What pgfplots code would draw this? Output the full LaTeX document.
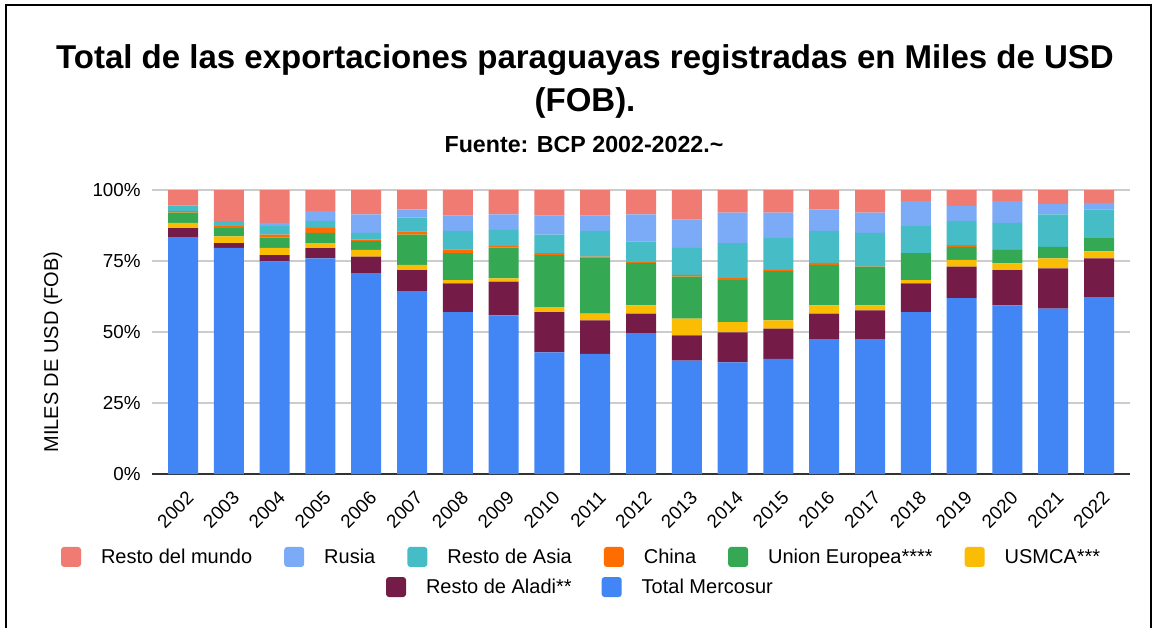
\documentclass[border=0pt]{standalone}
\usepackage{fontspec}
\setmainfont{Liberation Sans}
\usepackage{pgfplots}
\usepackage{pgfplotstable}
\pgfplotsset{compat=1.18}

\definecolor{cMerc}{HTML}{4285F4}
\definecolor{cAladi}{HTML}{741B47}
\definecolor{cUsmca}{HTML}{FBBC04}
\definecolor{cUE}{HTML}{34A853}
\definecolor{cChina}{HTML}{FF6D01}
\definecolor{cAsia}{HTML}{46BDC6}
\definecolor{cRusia}{HTML}{7BAAF7}
\definecolor{cResto}{HTML}{F07B72}

% share of each region, % of total exports
\pgfplotstableread{
x  merc  aladi usmca ue   china asia rusia resto
0  83.2  3.4   1.8   3.6  0.6   1.9  0.0   5.5
1  79.6  1.7   2.4   3.0  0.6   1.7  0.0   11.0
2  74.9  2.2   2.5   3.6  1.1   3.0  1.1   11.6
3  75.9  3.6   1.8   3.6  1.8   2.4  3.5   7.4
4  70.7  5.8   2.4   3.1  0.5   2.4  6.5   8.6
5  64.2  7.6   1.8   10.7 1.1   4.9  2.9   6.8
6  57.0  10.1  1.2   9.5  1.3   6.5  5.4   9.0
7  55.9  11.8  1.2   10.8 0.5   5.8  5.4   8.6
8  42.8  14.2  1.8   18.3 0.7   6.5  6.7   9.0
9  42.3  11.8  2.4   19.8 0.2   9.1  5.4   9.0
10 49.4  7.1   2.9   14.9 0.6   7.0  9.5   8.6
11 39.9  8.9   5.9   14.8 0.6   9.5  10.0  10.4
12 39.3  10.6  3.6   14.9 0.6   12.3 10.7  8.0
13 40.5  10.7  2.9   17.3 0.5   11.2 8.9   8.0
14 47.5  9.0   2.9   14.2 0.7   11.3 7.6   6.8
15 47.5  10.1  1.8   13.6 0.1   11.8 7.1   8.0
16 57.0  10.1  1.2   9.5  0.0   9.5  8.8   3.9
17 61.9  11.1  2.4   4.6  0.6   8.5  5.3   5.6
18 59.4  12.4  2.4   4.7  0.0   9.5  7.7   3.9
19 58.2  14.2  3.5   4.1  0.0   11.4 3.6   5.0
20 62.3  13.6  2.5   4.7  0.0   10.1 2.3   4.5
}\exports

\pgfplotsset{swatch/.style={legend image code/.code={\fill[fill=#1,draw=none,rounded corners=1.5pt] (0pt,-4.4pt) rectangle (10pt,5.6pt);}}}

\begin{document}
\begin{tikzpicture}
\path[fill=white] (0pt,0pt) rectangle (578pt,314pt);
\draw[line width=1pt] (3pt,0pt) -- (3pt,311.5pt) -- (575.5pt,311.5pt) -- (575.5pt,0pt);

\node[anchor=base, inner sep=0pt, font=\fontsize{16.5}{20}\selectfont\bfseries] at (292.5pt,280pt)
  {Total de las exportaciones paraguayas registradas en Miles de USD};
\node[anchor=base, inner sep=0pt, font=\fontsize{16.5}{20}\selectfont\bfseries] at (292.5pt,258.5pt) {(FOB).};
\node[anchor=base, inner sep=0pt, font=\fontsize{11.6}{13}\selectfont\bfseries] at (292pt,238pt) {Fuente: BCP 2002-2022.\textasciitilde};

\begin{axis}[
  at={(76pt,77pt)}, anchor=south west,
  scale only axis, width=489pt, height=142pt,
  ybar stacked, bar width=0.655,
  xmin=-0.677, xmax=20.677, ymin=0, ymax=100,
  xtick={0,...,20},
  xticklabels={2002,2003,2004,2005,2006,2007,2008,2009,2010,2011,2012,2013,2014,2015,2016,2017,2018,2019,2020,2021,2022},
  ytick={0,25,50,75,100},
  yticklabels={0\%,25\%,50\%,75\%,100\%},
  axis line style={draw=none}, major tick length=0pt,
  ymajorgrids, grid style={draw=black!20, line width=0.6pt},
  extra y ticks={0}, extra y tick labels={},
  extra y tick style={grid style={draw=black!80, line width=1pt}},
  yticklabel style={font=\fontsize{9.4}{11}\selectfont, inner sep=0pt, anchor=east, xshift=-5.5pt},
  xticklabel style={font=\fontsize{9.4}{11}\selectfont, inner sep=0pt, anchor=east, xshift=3.7pt, yshift=-10.3pt, rotate=45},
  ylabel={MILES DE USD (FOB)},
  ylabel style={at={(axis description cs:-0.1012,0.4296)}, anchor=center, font=\fontsize{10}{12}\selectfont},
  legend columns=6,
  legend style={at={(axis description cs:-0.0930,-0.292)}, anchor=west, draw=none, fill=none,
    inner sep=0pt, outer sep=0pt, font=\fontsize{10}{12}\selectfont,
    nodes={inner sep=0pt},
    /tikz/every odd column/.append style={column sep=10pt},
    /tikz/every even column/.append style={column sep=16pt}},
]
\addlegendimage{swatch=cResto}\addlegendentry{Resto del mundo}
\addlegendimage{swatch=cRusia}\addlegendentry{Rusia}
\addlegendimage{swatch=cAsia}\addlegendentry{Resto de Asia}
\addlegendimage{swatch=cChina}\addlegendentry{China}
\addlegendimage{swatch=cUE}\addlegendentry{Union Europea****}
\addlegendimage{swatch=cUsmca}\addlegendentry{USMCA***}

\addplot[fill=cMerc, draw=none] table[x=x, y=merc] {\exports};
\addplot[fill=cAladi, draw=none] table[x=x, y=aladi] {\exports};
\addplot[fill=cUsmca, draw=none] table[x=x, y=usmca] {\exports};
\addplot[fill=cUE, draw=none] table[x=x, y=ue] {\exports};
\addplot[fill=cChina, draw=none] table[x=x, y=china] {\exports};
\addplot[fill=cAsia, draw=none] table[x=x, y=asia] {\exports};
\addplot[fill=cRusia, draw=none] table[x=x, y=rusia] {\exports};
\addplot[fill=cResto, draw=none] table[x=x, y=resto] {\exports};
\end{axis}

% second legend row, centred on its own
\begin{axis}[
  at={(76pt,77pt)}, anchor=south west,
  scale only axis, width=489pt, height=142pt,
  hide axis, xmin=0, xmax=1, ymin=0, ymax=1,
  legend columns=2,
  legend style={at={(axis description cs:0.2393,-0.398)}, anchor=west, draw=none, fill=none,
    inner sep=0pt, outer sep=0pt, font=\fontsize{10}{12}\selectfont,
    nodes={inner sep=0pt},
    /tikz/every odd column/.append style={column sep=10pt},
    /tikz/every even column/.append style={column sep=15pt}},
]
\addlegendimage{swatch=cAladi}\addlegendentry{Resto de Aladi**}
\addlegendimage{swatch=cMerc}\addlegendentry{Total Mercosur}
\end{axis}
\end{tikzpicture}
\end{document}
